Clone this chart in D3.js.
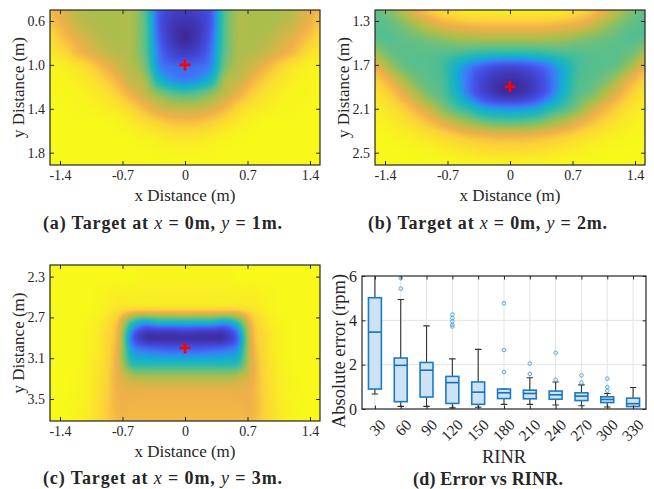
<!DOCTYPE html>
<html>
<head>
<meta charset="utf-8">
<script src="https://cdn.jsdelivr.net/npm/d3@7"></script>
<style>
  body { margin: 0; background: #fff; }
  svg text { font-family: "Liberation Serif", "Times New Roman", serif; fill: #262626; }
  .cap { font-size: 18px; }
</style>
</head>
<body>
<svg id="fig" width="654" height="489" font-family="Liberation Serif, serif"></svg>
<script>
// ---- heatmap data (values on a 0..10 scale, 0 = dark blue, 10 = yellow) ----
const heatX = [-1.512, 1.512];
const xTicks = [-1.4, -0.7, 0, 0.7, 1.4];

const yDomainA = [0.5, 1.912];
const yTicksA = [0.6, 1.0, 1.4, 1.8];
const fieldA = [
  [7.8,7.0,6.4,6.0,6.0,6.0,6.0,4.6,1.8,1.0,0.8,1.0,1.8,4.6,6.0,6.0,6.0,6.0,6.4,7.0,7.8],
  [8.2,7.4,6.6,6.2,6.0,6.0,6.0,4.7,1.8,0.6,0.3,0.6,1.8,4.7,6.0,6.0,6.0,6.2,6.6,7.4,8.2],
  [8.8,8.0,7.3,6.7,6.2,6.0,6.0,4.7,2.0,0.6,0.0,0.6,2.0,4.7,6.0,6.0,6.2,6.7,7.3,8.0,8.8],
  [9.3,8.8,7.8,7.2,6.6,6.2,6.0,4.8,2.3,1.1,0.7,1.1,2.3,4.8,6.0,6.2,6.6,7.2,7.8,8.8,9.3],
  [9.8,9.6,9.2,8.5,7.6,6.8,6.2,5.2,2.6,2.0,1.9,2.0,2.6,5.2,6.2,6.8,7.6,8.5,9.2,9.6,9.8],
  [10,9.8,9.6,9.2,8.5,7.6,6.6,6.0,3.6,2.7,2.4,2.7,3.6,6.0,6.6,7.6,8.5,9.2,9.6,9.8,10],
  [10,9.9,9.8,9.6,9.2,8.5,7.5,6.6,5.6,4.9,4.6,4.9,5.6,6.6,7.5,8.5,9.2,9.6,9.8,9.9,10],
  [10,10,9.9,9.8,9.6,9.3,8.7,7.8,7.0,6.6,6.5,6.6,7.0,7.8,8.7,9.3,9.6,9.8,9.9,10,10],
  [10,10,10,10,10,9.8,9.5,9.0,8.5,8.1,8.0,8.1,8.5,9.0,9.5,9.8,10,10,10,10,10],
  [10,10,10,10,10,10,9.9,9.7,9.5,9.3,9.2,9.3,9.5,9.7,9.9,10,10,10,10,10,10],
  [10,10,10,10,10,10,10,10,9.9,9.8,9.8,9.8,9.9,10,10,10,10,10,10,10,10],
  [10,10,10,10,10,10,10,10,10,10,10,10,10,10,10,10,10,10,10,10,10]
];

const yDomainB = [1.2, 2.612];
const yTicksB = [1.3, 1.7, 2.1, 2.5];
const fieldB = [
  [4.8,5.3,6.2,7.3,8.2,8.8,9.3,9.6,9.6,9.6,9.6,9.6,9.6,9.6,9.3,8.8,8.2,7.3,6.2,5.3,4.8],
  [4.6,4.8,5.3,6.0,6.8,7.4,7.7,7.9,8.0,8.0,8.0,8.0,8.0,7.9,7.7,7.4,6.8,6.0,5.3,4.8,4.6],
  [4.7,4.6,4.8,5.0,5.3,5.6,5.9,6.0,6.1,6.1,6.1,6.1,6.1,6.0,5.9,5.6,5.3,5.0,4.8,4.6,4.7],
  [5.8,5.0,4.7,4.7,4.7,4.6,4.5,4.3,4.1,4.0,4.0,4.0,4.1,4.3,4.5,4.6,4.7,4.7,4.7,5.0,5.8],
  [7.3,6.0,5.0,4.7,4.6,4.3,3.3,2.4,1.8,1.4,1.3,1.4,1.8,2.4,3.3,4.3,4.6,4.7,5.0,6.0,7.3],
  [8.5,7.5,6.2,5.2,4.7,4.4,3.2,2.0,1.0,0.4,0.2,0.4,1.0,2.0,3.2,4.4,4.7,5.2,6.2,7.5,8.5],
  [9.2,8.5,7.4,6.2,5.2,4.6,3.5,2.2,1.2,0.5,0.3,0.5,1.2,2.2,3.5,4.6,5.2,6.2,7.4,8.5,9.2],
  [9.6,9.2,8.5,7.6,6.6,5.4,4.5,3.8,3.0,2.7,2.6,2.7,3.0,3.8,4.5,5.4,6.6,7.6,8.5,9.2,9.6],
  [9.8,9.6,9.2,8.7,8.0,7.2,6.4,5.8,5.2,4.9,4.8,4.9,5.2,5.8,6.4,7.2,8.0,8.7,9.2,9.6,9.8],
  [10,9.9,9.7,9.5,9.2,8.8,8.4,8.0,7.8,7.6,7.6,7.6,7.8,8.0,8.4,8.8,9.2,9.5,9.7,9.9,10],
  [10,10,10,9.9,9.8,9.6,9.4,9.2,9.0,8.9,8.9,8.9,9.0,9.2,9.4,9.6,9.8,9.9,10,10,10],
  [10,10,10,10,10,10,10,9.9,9.8,9.8,9.7,9.8,9.8,9.9,10,10,10,10,10,10,10]
];

const yDomainC = [2.186, 3.716];
const yTicksC = [2.3, 2.7, 3.1, 3.5];
const fieldC = [
  [10,10,10,10,10,10,10,10,10,10,10,10,10,10,10,10,10,10,10,10,10],
  [10,10,10,10,10,10,10,9.8,9.8,9.8,9.8,9.8,9.8,9.8,10,10,10,10,10,10,10],
  [10,10,10,10,9.8,9.6,9.6,9.6,9.6,9.6,9.6,9.6,9.6,9.6,9.6,9.6,9.8,10,10,10,10],
  [10,10,10,10,9.7,9.3,9.0,9.0,9.0,9.0,9.0,9.0,9.0,9.0,9.0,9.3,9.7,10,10,10,10],
  [10,10,10,9.8,9.3,8.0,4.5,3.2,3.6,3.6,3.7,3.6,3.6,3.2,4.5,8.0,9.3,9.8,10,10,10],
  [10,10,10,9.7,9.0,7.5,2.3,0.4,0.2,0.2,0.3,0.2,0.2,0.4,2.3,7.5,9.0,9.7,10,10,10],
  [10,10,10,9.7,9.0,7.3,3.0,2.2,2.0,1.9,1.9,1.9,2.0,2.2,3.0,7.3,9.0,9.7,10,10,10],
  [10,10,10,9.6,8.9,7.2,4.2,3.8,3.8,3.8,3.8,3.8,3.8,3.8,4.2,7.2,8.9,9.6,10,10,10],
  [10,10,9.9,9.5,8.8,7.4,6.5,6.2,6.2,6.2,6.2,6.2,6.2,6.2,6.5,7.4,8.8,9.5,9.9,10,10],
  [10,10,9.9,9.5,8.7,7.6,7.4,7.4,7.4,7.4,7.4,7.4,7.4,7.4,7.4,7.6,8.7,9.5,9.9,10,10],
  [10,10,9.8,9.4,8.6,7.6,7.6,7.6,7.6,7.6,7.6,7.6,7.6,7.6,7.6,7.6,8.6,9.4,9.8,10,10],
  [10,10,9.8,9.4,8.7,7.8,7.8,7.8,7.8,7.8,7.8,7.8,7.8,7.8,7.8,7.8,8.7,9.4,9.8,10,10]
];

const targets = [[0, 1.0], [0, 1.9], [0, 3.0]];

// ---- box plot data ----
const rinr = [30, 60, 90, 120, 150, 180, 210, 240, 270, 300, 330];
const q1 = [0.90, 0.33, 0.54, 0.25, 0.21, 0.47, 0.46, 0.44, 0.38, 0.29, 0.11];
const medians = [3.47, 1.97, 1.75, 1.19, 0.76, 0.73, 0.70, 0.64, 0.58, 0.43, 0.24];
const q3 = [5.02, 2.30, 2.10, 1.47, 1.22, 0.90, 0.85, 0.81, 0.73, 0.55, 0.49];
const whiskerLow = [0.68, 0.12, 0.12, 0.05, 0.08, 0.21, 0.21, 0.18, 0.15, 0.09, 0.11];
const whiskerHigh = [7.2, 4.94, 3.75, 2.26, 2.69, 0.90, 1.41, 1.22, 1.09, 0.70, 0.97];
const outliers = [[], [5.43, 5.90], [], [3.72, 3.80, 3.95, 4.10, 4.26], [],
  [1.67, 2.66, 4.77], [1.58, 2.05], [1.32, 2.54], [1.19, 1.52], [0.82, 0.99, 1.37], []];
const errTicks = [0, 2, 4, 6];

const captions = [
  ["(a) Target at ", "x", " = 0m, ", "y", " = 1m."],
  ["(b) Target at ", "x", " = 0m, ", "y", " = 2m."],
  ["(c) Target at ", "x", " = 0m, ", "y", " = 3m."],
  ["(d) Error vs RINR."]
];

// parula-like colormap
const cmapStops = [0, 1.5, 2.3, 3.0, 3.8, 4.7, 6.0, 7.5, 8.5, 10];
const cmapColors = ["#3e2a9c", "#4450e8", "#3c7cf5", "#14aad8", "#25b8b0",
  "#5cbf8a", "#abbe4c", "#f0b048", "#fcd23a", "#f8f81a"];
const cmap = d3.scaleLinear().domain(cmapStops).range(cmapColors).clamp(true);
const lut = d3.range(256).map(i => d3.rgb(cmap(i / 255 * 10)));

const svg = d3.select("#fig");
const ink = "#262626";

function cubic(p0, p1, p2, p3, t) {
  return p1 + 0.5 * t * (p2 - p0 + t * (2 * p0 - 5 * p1 + 4 * p2 - p3 + t * (3 * (p1 - p2) + p3 - p0)));
}

function sample(F, fx, fy) {
  const rows = F.length, cols = F[0].length;
  const i0 = Math.floor(fx), j0 = Math.floor(fy);
  const tx = fx - i0, ty = fy - j0;
  const cl = (v, n) => Math.max(0, Math.min(n - 1, v));
  const r = [];
  for (let dj = -1; dj <= 2; dj++) {
    const row = F[cl(j0 + dj, rows)];
    r.push(cubic(row[cl(i0 - 1, cols)], row[cl(i0, cols)], row[cl(i0 + 1, cols)], row[cl(i0 + 2, cols)], tx));
  }
  return cubic(r[0], r[1], r[2], r[3], ty);
}

function drawHeat(p) {
  const x = d3.scaleLinear().domain(heatX).range([p.left, p.left + p.w]);
  const y = d3.scaleLinear().domain(p.yDomain).range([p.top, p.top + p.h]);
  const F = p.field;
  const rows = F.length, cols = F[0].length;

  const cv = document.createElement("canvas");
  cv.width = p.w; cv.height = p.h;
  const ctx = cv.getContext("2d");
  const img = ctx.createImageData(p.w, p.h);
  for (let j = 0; j < p.h; j++) {
    const fy = (j + 0.5) / p.h * (rows - 1);
    for (let i = 0; i < p.w; i++) {
      const fx = (i + 0.5) / p.w * (cols - 1);
      let v = sample(F, fx, fy);
      v = Math.max(0, Math.min(10, v));
      const c = lut[Math.round(v / 10 * 255)];
      const k = (j * p.w + i) * 4;
      img.data[k] = c.r; img.data[k + 1] = c.g; img.data[k + 2] = c.b; img.data[k + 3] = 255;
    }
  }
  ctx.putImageData(img, 0, 0);

  const g = svg.append("g");
  g.append("image")
    .attr("x", x(heatX[0])).attr("y", y(p.yDomain[0]))
    .attr("width", x(heatX[1]) - x(heatX[0]))
    .attr("height", y(p.yDomain[1]) - y(p.yDomain[0]))
    .attr("preserveAspectRatio", "none")
    .attr("href", cv.toDataURL());

  const fmtX = d => d === 0 ? "0" : String(d);
  const axes = [
    [d3.axisBottom(x).tickValues(xTicks).tickFormat(fmtX), `translate(0,${p.top + p.h})`],
    [d3.axisTop(x).tickValues(xTicks).tickFormat(""), `translate(0,${p.top})`],
    [d3.axisLeft(y).tickValues(p.yTicks).tickFormat(d3.format(".1f")), `translate(${p.left},0)`],
    [d3.axisRight(y).tickValues(p.yTicks).tickFormat(""), `translate(${p.left + p.w},0)`]
  ];
  axes.forEach(([ax, tr]) => {
    const a = g.append("g").attr("transform", tr)
      .call(ax.tickSizeInner(-4).tickSizeOuter(0).tickPadding(5));
    a.attr("font-family", null);
    a.select(".domain").remove();
    a.selectAll(".tick line").attr("stroke", ink).attr("stroke-width", 1);
    a.selectAll(".tick text").attr("font-size", 14).attr("fill", ink);
  });

  g.append("rect")
    .attr("x", p.left).attr("y", p.top).attr("width", p.w).attr("height", p.h)
    .attr("fill", "none").attr("stroke", ink).attr("stroke-width", 1.2);

  // target marker
  const [tx, ty] = p.target;
  const cx = x(tx), cy = y(ty);
  g.append("path")
    .attr("d", `M${cx - 5.5},${cy}H${cx + 5.5}M${cx},${cy - 5.5}V${cy + 5.5}`)
    .attr("stroke", "#ff0000").attr("stroke-width", 2.6).attr("fill", "none");

  g.append("text")
    .attr("x", p.left + p.w / 2).attr("y", p.top + p.h + 36)
    .attr("text-anchor", "middle").attr("font-size", 17)
    .text("x Distance (m)");
  g.append("text")
    .attr("transform", `translate(${p.left - 26},${p.top + p.h / 2}) rotate(-90)`)
    .attr("text-anchor", "middle").attr("font-size", 17)
    .text("y Distance (m)");
}

function drawCaption(cx, cy, width, parts) {
  const t = svg.append("text").attr("class", "cap")
    .attr("x", cx).attr("y", cy).attr("text-anchor", "middle")
    .attr("textLength", width).attr("lengthAdjust", "spacing");
  parts.forEach((s, i) => {
    t.append("tspan").text(s)
      .attr("font-weight", i % 2 === 1 ? "normal" : "bold")
      .attr("font-style", i % 2 === 1 ? "italic" : "normal");
  });
}

drawHeat({ left: 50, top: 10, w: 270, h: 155, yDomain: yDomainA, yTicks: yTicksA, field: fieldA, target: targets[0] });
drawHeat({ left: 375, top: 10, w: 270, h: 155, yDomain: yDomainB, yTicks: yTicksB, field: fieldB, target: targets[1] });
drawHeat({ left: 50, top: 265, w: 270, h: 156, yDomain: yDomainC, yTicks: yTicksC, field: fieldC, target: targets[2] });

// ---- box plot ----
(function () {
  const left = 362, right = 646, top = 276, bottom = 409;
  const x = d3.scaleLinear().domain([0.5, rinr.length + 0.5]).range([left, right]);
  const y = d3.scaleLinear().domain([0, 6]).range([bottom, top]);
  const pos = rinr.map((d, i) => i + 1);
  const g = svg.append("g");

  g.append("defs").append("clipPath").attr("id", "boxclip")
    .append("rect").attr("x", left).attr("y", top).attr("width", right - left).attr("height", bottom - top);

  // grid
  g.append("g").selectAll("line").data(pos).join("line")
    .attr("x1", d => x(d)).attr("x2", d => x(d)).attr("y1", top).attr("y2", bottom)
    .attr("stroke", "#e3e3e3").attr("stroke-width", 1);
  g.append("g").selectAll("line").data(errTicks.slice(1, -1)).join("line")
    .attr("x1", left).attr("x2", right).attr("y1", d => y(d)).attr("y2", d => y(d))
    .attr("stroke", "#e3e3e3").attr("stroke-width", 1);

  const plot = g.append("g").attr("clip-path", "url(#boxclip)");
  const bw = (x(2) - x(1)) * 0.5, cw = (x(2) - x(1)) * 0.25;
  rinr.forEach((r, i) => {
    const cx = x(pos[i]);
    const b = plot.append("g");
    b.append("path")
      .attr("d", `M${cx},${y(q3[i])}V${y(whiskerHigh[i])}M${cx},${y(q1[i])}V${y(whiskerLow[i])}` +
        `M${cx - cw / 2},${y(whiskerHigh[i])}H${cx + cw / 2}M${cx - cw / 2},${y(whiskerLow[i])}H${cx + cw / 2}`)
      .attr("stroke", "#333").attr("stroke-width", 1.1).attr("fill", "none");
    b.append("rect")
      .attr("x", cx - bw / 2).attr("y", y(q3[i]))
      .attr("width", bw).attr("height", y(q1[i]) - y(q3[i]))
      .attr("fill", "#cde3f3").attr("stroke", "#1a7cc4").attr("stroke-width", 1.6);
    b.append("line")
      .attr("x1", cx - bw / 2).attr("x2", cx + bw / 2)
      .attr("y1", y(medians[i])).attr("y2", y(medians[i]))
      .attr("stroke", "#1a6fb5").attr("stroke-width", 1.6);
    b.selectAll("circle").data(outliers[i]).join("circle")
      .attr("cx", cx).attr("cy", d => y(d)).attr("r", 1.8)
      .attr("fill", "none").attr("stroke", "#5aa8dc").attr("stroke-width", 1);
  });

  const axes = [
    [d3.axisLeft(y).tickValues(errTicks).tickFormat(d => String(d)), `translate(${left},0)`],
    [d3.axisRight(y).tickValues(errTicks).tickFormat(""), `translate(${right},0)`],
    [d3.axisTop(x).tickValues(pos).tickFormat(""), `translate(0,${top})`],
    [d3.axisBottom(x).tickValues(pos).tickFormat(""), `translate(0,${bottom})`]
  ];
  axes.forEach(([ax, tr]) => {
    const a = g.append("g").attr("transform", tr)
      .call(ax.tickSizeInner(-3.5).tickSizeOuter(0).tickPadding(5));
    a.attr("font-family", null);
    a.select(".domain").remove();
    a.selectAll(".tick line").attr("stroke", ink);
    a.selectAll(".tick text").attr("font-size", 16).attr("fill", ink);
  });

  g.selectAll("text.xl").data(rinr).join("text")
    .attr("class", "xl")
    .attr("transform", (d, i) => `translate(${x(pos[i]) + 4},${bottom + 9}) rotate(-45)`)
    .attr("text-anchor", "end").attr("dy", "0.7em").attr("font-size", 15.5)
    .text(d => d);

  g.append("rect")
    .attr("x", left).attr("y", top).attr("width", right - left).attr("height", bottom - top)
    .attr("fill", "none").attr("stroke", ink).attr("stroke-width", 1.2);

  g.append("text")
    .attr("x", (left + right) / 2).attr("y", 462.5)
    .attr("text-anchor", "middle").attr("font-size", 18.5)
    .text("RINR");
  g.append("text")
    .attr("transform", `translate(345,351) rotate(-90)`)
    .attr("text-anchor", "middle").attr("font-size", 18.5)
    .text("Absolute error (rpm)");
})();

drawCaption(162.5, 229, 239, captions[0]);
drawCaption(487.5, 229, 239, captions[1]);
drawCaption(162.5, 484, 239, captions[2]);
drawCaption(488, 485, 150, captions[3]);
</script>
</body>
</html>
